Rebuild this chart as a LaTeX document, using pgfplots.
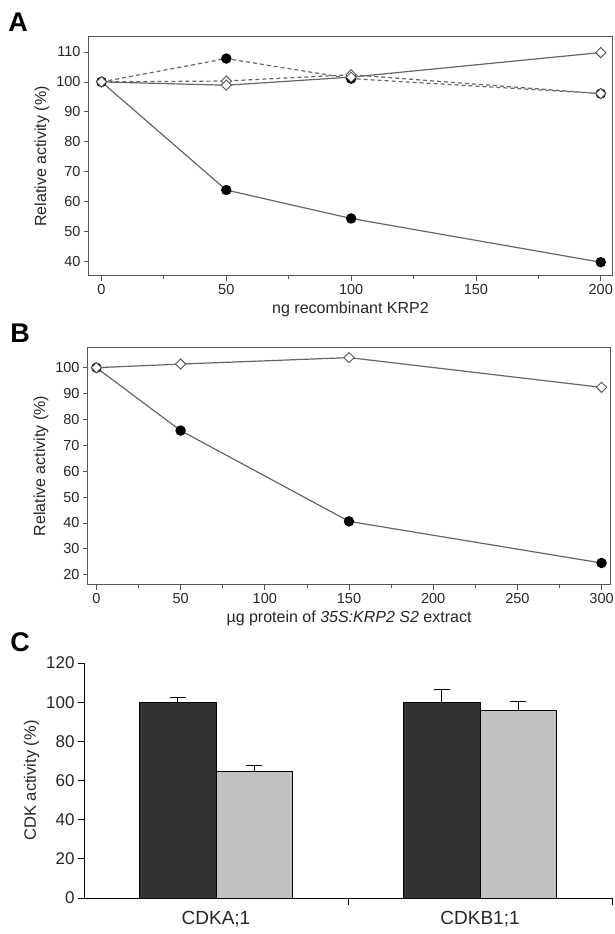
\documentclass[border=0pt]{standalone}
\usepackage{fontspec}
\setmainfont{Liberation Sans}
\usepackage{pgfplots}
\pgfplotsset{compat=1.18}
\definecolor{axgray}{HTML}{555555}
\definecolor{lngray}{HTML}{666666}
\definecolor{txt}{HTML}{262626}
\definecolor{bardark}{HTML}{333333}
\definecolor{barlight}{HTML}{C2C2C2}

\pgfplotsset{
  linepanel/.style={
    scale only axis, anchor=south west,
    axis line style={axgray, line width=1pt},
    tick style={axgray, line width=0.8pt},
    tick align=outside, major tick length=5pt, minor tick length=3pt,
    xtick pos=bottom, ytick pos=left,
    ticklabel style={font=\fontsize{14.5}{14.5}\selectfont, text=txt},
    label style={font=\fontsize{16}{16}\selectfont, text=txt},
    /pgf/number format/assume math mode=true,
    minor x tick num=1, scaled ticks=false,
  },
  solidln/.style={lngray, line width=1.2pt},
  dashln/.style={lngray, line width=1.2pt, dash pattern=on 4pt off 3pt},
  fcirc/.style={mark=*, mark size=4.6pt, mark options={solid, fill=black, draw=black}},
  odiam/.style={mark=square*, mark size=3.6pt, mark options={solid, rotate=45, fill=white, draw=axgray, line width=0.9pt}},
}

\begin{document}
\begin{tikzpicture}[x=1pt,y=1pt]
\useasboundingbox (0,0) rectangle (615,934);

% panel labels
\node[font=\fontsize{27}{27}\selectfont\bfseries] at (18,912) {A};
\node[font=\fontsize{27}{27}\selectfont\bfseries] at (20,601) {B};
\node[font=\fontsize{27}{27}\selectfont\bfseries] at (20,292) {C};

% ---- A ----
\begin{axis}[linepanel, at={(89pt,658pt)}, width=523pt, height=239pt,
  xmin=-5, xmax=204.5, ymin=35.2, ymax=115,
  xtick={0,50,100,150,200}, ytick={40,50,...,110},
  xlabel={ng recombinant KRP2}, ylabel={Relative activity (\%)}]
\addplot[solidln, fcirc] coordinates {(0,100) (50,63.9) (100,54.4) (200,39.8)};
\addplot[dashln, fcirc] coordinates {(0,100) (50,107.8) (100,101.1) (200,96.1)};
\addplot[dashln, odiam] coordinates {(0,100) (50,100.3) (100,102.4) (200,96.1)};
\addplot[solidln, odiam] coordinates {(0,100) (50,98.9) (100,101.6) (200,109.8)};
\end{axis}

% ---- B ----
\begin{axis}[linepanel, at={(88pt,349pt)}, width=522pt, height=238pt,
  xmin=-5, xmax=305, ymin=16, ymax=108,
  xtick={0,50,...,300}, ytick={20,30,...,100},
  xlabel={µg protein of \textit{35S:KRP2 S2} extract}, ylabel={Relative activity (\%)}]
\addplot[solidln, fcirc] coordinates {(0,100) (50,75.7) (150,40.6) (300,24.5)};
\addplot[solidln, odiam] coordinates {(0,100) (50,101.4) (150,103.9) (300,92.4)};
\end{axis}

% ---- C ----
\begin{axis}[scale only axis, anchor=south west, at={(84pt,36pt)},
  width=528pt, height=235pt,
  xmin=0.5, xmax=2.5, ymin=0, ymax=120,
  axis x line=bottom, axis y line=left,
  axis line style={-, black, line width=0.8pt},
  ybar, bar width=0.29,
  ytick={0,20,...,120}, xtick={1,2}, xticklabels={CDKA;1, CDKB1;1},
  tick align=outside, major tick length=6pt,
  ytick style={black, line width=0.8pt},
  xtick style={draw=none},
  extra x ticks={1.5,2.5}, extra x tick labels={},
  extra x tick style={xtick style={black, line width=0.8pt, draw=black}, major tick length=7pt},
  yticklabel style={font=\fontsize{17}{17}\selectfont, text=txt},
  xticklabel style={font=\fontsize{19}{19}\selectfont, text=txt, yshift=-4pt},
  ylabel style={font=\fontsize{16.5}{16.5}\selectfont, text=txt},
  ylabel={CDK activity (\%)},
  /pgf/number format/assume math mode=true,
]
\addplot[fill=bardark, draw=black, line width=0.8pt, bar shift=-0.145,
  error bars/.cd, y dir=plus, y explicit,
  error bar style={black, line width=1pt},
  error mark options={rotate=90, black, mark size=8pt, line width=1pt}]
  coordinates {(1,100) +- (0,2.3) (2,100) +- (0,6.3)};
\addplot[fill=barlight, draw=black, line width=0.8pt, bar shift=0.145,
  error bars/.cd, y dir=plus, y explicit,
  error bar style={black, line width=1pt},
  error mark options={rotate=90, black, mark size=8pt, line width=1pt}]
  coordinates {(1,64.5) +- (0,3.1) (2,95.9) +- (0,4.6)};
\end{axis}
\end{tikzpicture}
\end{document}
